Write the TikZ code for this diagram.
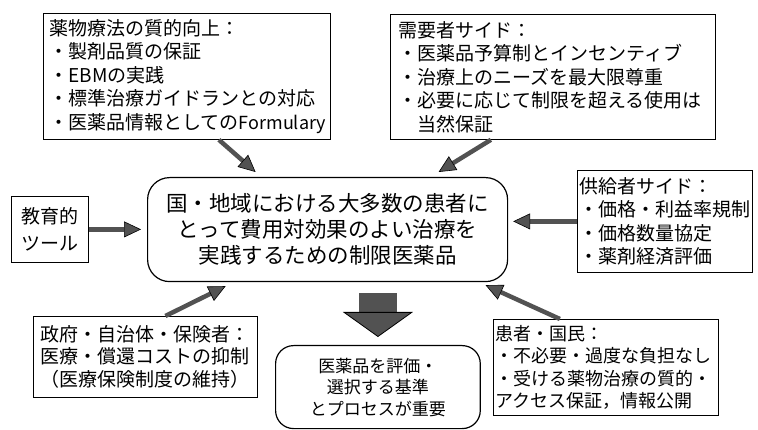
\documentclass[tikz,border=0pt]{standalone}
\usepackage{fontspec}
\setmainfont{Noto Sans CJK JP}
\usetikzlibrary{arrows.meta}

\begin{document}
\begin{tikzpicture}[x=1pt,y=-1pt,
    sidebox/.style={draw,thick,anchor=north west,align=left,inner ysep=0pt},
    roundbox/.style={draw,line width=1.2pt,rounded corners=22pt,anchor=north west,align=center,inner ysep=0pt},
    fatarrow/.style={line width=4.5pt,black!68,
      -{Triangle[length=17pt,width=16pt,fill=black!68,color=black,line width=0.6pt]}},
    bigarrow/.style={line width=38pt,black!68,
      -{Triangle[length=25pt,width=70pt,fill=black!68,color=black,line width=0.8pt]}}]
    \useasboundingbox (0,0) rectangle (758,430);
    %% Boxes
    \node[sidebox,font=\fontsize{19}{23.5}\selectfont,text width=275pt,inner xsep=6pt,minimum height=126pt] (quality) at (43,13)
      {薬物療法の質的向上：\\・製剤品質の保証\\・EBMの実践\\・標準治療ガイドランとの対応\\・医薬品情報としての{\fontsize{18}{23.5}\selectfont Formulary}};
    \node[sidebox,font=\fontsize{19}{23.5}\selectfont,text width=309pt,inner xsep=8pt,minimum height=125pt] (demand) at (390,14)
      {需要者サイド：\\・医薬品予算制とインセンティブ\\・治療上のニーズを最大限尊重\\・必要に応じて制限を超える使用は\\\hspace*{1em}当然保証};
    \node[sidebox,font=\fontsize{19}{27}\selectfont,align=center,text width=77pt,inner xsep=0pt,minimum height=66pt] (edu) at (11,196)
      {教育的\\ツール};
    \node[roundbox,font=\fontsize{21.5}{26}\selectfont,text width=360pt,inner xsep=0pt,minimum height=104pt] (main) at (147,177)
      {国・地域における大多数の患者に\\とって費用対効果のよい治療を\\実践するための制限医薬品};
    \node[sidebox,font=\fontsize{19}{23.5}\selectfont,text width=171pt,inner xsep=2pt,minimum height=102pt] (supply) at (577,170)
      {供給者サイド：\\・価格・利益率規制\\・価格数量協定\\・薬剤経済評価};
    \node[sidebox,font=\fontsize{19}{22.5}\selectfont,align=center,text width=224pt,inner xsep=0pt,minimum height=81pt] (govt) at (33,316)
      {政府・自治体・保険者：\\医療・償還コストの抑制\\（医療保険制度の維持）};
    \node[roundbox,font=\fontsize{17}{21.5}\selectfont,rounded corners=18pt,text width=198pt,minimum height=83pt] (evaluate) at (275,345)
      {医薬品を評価・\\選択する基準\\とプロセスが重要};
    \node[sidebox,font=\fontsize{18}{22.5}\selectfont,text width=221pt,inner xsep=2pt,minimum height=96pt] (patient) at (493,319)
      {患者・国民：\\・不必要・過度な負担なし\\・受ける薬物治療の質的・\\アクセス保証，情報公開};
    %% Arrows
    \draw[fatarrow] ([xshift=32pt]quality.south) -- ([xshift=-72pt,yshift=5pt]main.north);
    \draw[fatarrow] ([xshift=-62pt]demand.south) -- ([xshift=111pt,yshift=5pt]main.north);
    \draw[fatarrow,shorten >=6pt] (edu.east) -- (main.west |- edu.east);
    \draw[fatarrow,shorten >=5pt] (supply.west) -- (main.east |- supply.west);
    \draw[fatarrow] ([xshift=20pt]govt.north) -- ([xshift=-102pt,yshift=-4pt]main.south);
    \draw[fatarrow] ([xshift=-46pt]patient.north) -- ([xshift=158pt,yshift=-3pt]main.south);
    \draw[bigarrow] ([yshift=-11pt]evaluate.north |- main.south) -- ([yshift=8pt]evaluate.north);
\end{tikzpicture}
\end{document}
